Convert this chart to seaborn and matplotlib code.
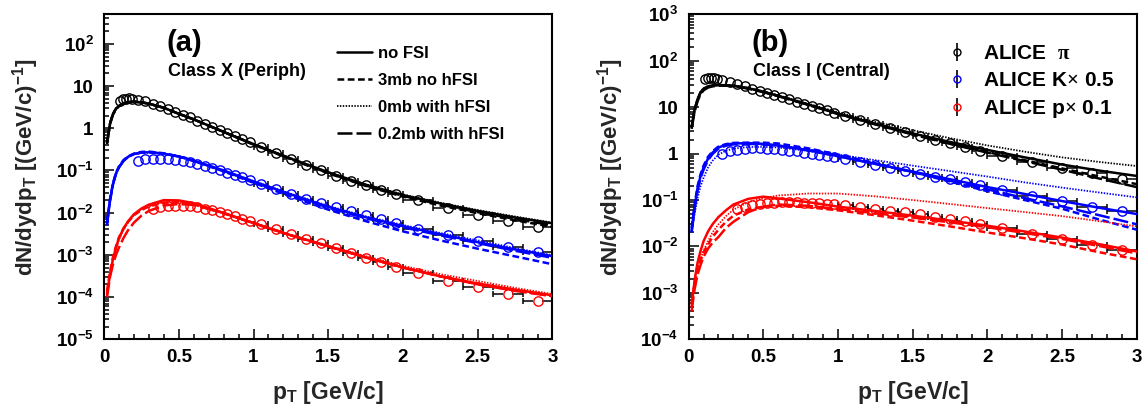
import numpy as np
import pandas as pd
import matplotlib
matplotlib.use("Agg")
import matplotlib.pyplot as plt
from matplotlib.lines import Line2D
from matplotlib.container import ErrorbarContainer
from matplotlib.legend_handler import HandlerErrorbar
from matplotlib.ticker import LogLocator, MultipleLocator, FuncFormatter, NullFormatter
import seaborn as sns

# ---------------- measured spectra (bin edges in GeV/c) ----------------
pi_edges = [0.10, 0.12, 0.14, 0.16, 0.18, 0.20, 0.25, 0.30, 0.35, 0.40, 0.45, 0.50,
            0.55, 0.60, 0.65, 0.70, 0.75, 0.80, 0.85, 0.90, 0.95, 1.00, 1.10, 1.20,
            1.30, 1.40, 1.50, 1.60, 1.70, 1.80, 1.90, 2.00, 2.20, 2.40, 2.60, 2.80, 3.00]
k_edges = pi_edges[5:]
p_edges = pi_edges[7:]

periph_pi_data = [4.3, 4.8, 5.0, 5.1, 5.0,
                  4.7, 4.3, 3.8, 3.3, 2.85, 2.45, 2.1, 1.8, 1.52, 1.28, 1.08, 0.91, 0.77, 0.65, 0.55, 0.47,
                  0.36, 0.26, 0.185, 0.135, 0.10, 0.075, 0.057, 0.044, 0.034, 0.027,
                  0.0195, 0.0131, 0.0089, 0.0062, 0.0046]
periph_k_data = [0.17, 0.185, 0.19, 0.19, 0.185, 0.178, 0.168, 0.155, 0.14, 0.126, 0.113, 0.1, 0.089, 0.079, 0.069, 0.061,
                 0.047, 0.036, 0.028, 0.0215, 0.017, 0.0133, 0.0108, 0.0086, 0.0069, 0.0057,
                 0.0042, 0.0029, 0.0021, 0.0015, 0.00114]
periph_p_data = [0.0123, 0.0135, 0.014, 0.0142, 0.0142, 0.014, 0.0133, 0.0124, 0.0114, 0.0103, 0.0093, 0.0082, 0.0072, 0.0063,
                 0.0053, 0.0041, 0.0031, 0.0024, 0.00186, 0.00142, 0.00108, 0.00083, 0.00066, 0.00052,
                 0.00038, 0.000245, 0.00017, 0.000118, 0.000082]

central_pi_data = [40, 42, 42, 42, 41,
                   38, 34, 31, 28, 25, 22.5, 20.5, 18.5, 16.5, 14.8, 13.2, 11.8, 10.6, 9.5, 8.5, 7.6,
                   6.4, 5.2, 4.3, 3.55, 2.9, 2.4, 1.98, 1.65, 1.38, 1.15,
                   0.90, 0.66, 0.50, 0.38, 0.28]
central_k_data = [0.98, 1.12, 1.22, 1.27, 1.29, 1.29, 1.28, 1.25, 1.21, 1.16, 1.11, 1.05, 0.99, 0.94, 0.88, 0.83,
                  0.75, 0.65, 0.56, 0.49, 0.43, 0.37, 0.32, 0.28, 0.24, 0.21,
                  0.166, 0.125, 0.094, 0.071, 0.057]
central_p_data = [0.063, 0.071, 0.078, 0.083, 0.086, 0.088, 0.089, 0.089, 0.089, 0.088, 0.087, 0.085, 0.083, 0.081,
                  0.077, 0.071, 0.065, 0.059, 0.054, 0.049, 0.044, 0.039, 0.035, 0.031,
                  0.025, 0.0185, 0.0145, 0.0108, 0.0084]

# ---------------- model curves ----------------
pt_model = [0.02, 0.04, 0.06, 0.08, 0.10, 0.13, 0.16, 0.20, 0.25, 0.30, 0.40, 0.50,
            0.60, 0.80, 1.00, 1.25, 1.50, 1.75, 2.00, 2.25, 2.50, 2.75, 3.00]

periph_pi_nofsi = [0.45, 1.3, 2.2, 2.9, 3.4, 3.9, 4.15, 4.25, 4.1, 3.8, 3.05, 2.2, 1.62, 0.82, 0.42, 0.19, 0.09, 0.046, 0.026, 0.0165, 0.011, 0.0077, 0.0056]
periph_pi_3mb = [0.45, 1.3, 2.2, 2.9, 3.4, 3.9, 4.15, 4.3, 4.15, 3.85, 3.05, 2.2, 1.62, 0.82, 0.41, 0.185, 0.086, 0.043, 0.024, 0.0148, 0.0097, 0.0066, 0.0046]
periph_pi_0mb = [0.47, 1.35, 2.25, 2.95, 3.45, 3.95, 4.2, 4.3, 4.1, 3.8, 3.05, 2.2, 1.62, 0.83, 0.43, 0.195, 0.092, 0.047, 0.027, 0.0172, 0.0115, 0.0081, 0.0058]
periph_pi_02mb = [0.42, 1.25, 2.1, 2.8, 3.3, 3.8, 4.1, 4.2, 4.1, 3.8, 3.05, 2.2, 1.62, 0.82, 0.41, 0.187, 0.087, 0.044, 0.025, 0.0155, 0.0103, 0.0071, 0.0050]

periph_k_nofsi = [0.0055, 0.02, 0.048, 0.085, 0.12, 0.17, 0.21, 0.245, 0.265, 0.27, 0.25, 0.215, 0.17, 0.10, 0.055, 0.027, 0.0138, 0.0078, 0.0048, 0.0031, 0.002, 0.00135, 0.00093]
periph_k_3mb = [0.006, 0.021, 0.05, 0.088, 0.125, 0.175, 0.215, 0.25, 0.275, 0.28, 0.255, 0.215, 0.168, 0.095, 0.051, 0.024, 0.0118, 0.0063, 0.0036, 0.0022, 0.0014, 0.00092, 0.0006]
periph_k_0mb = [0.005, 0.019, 0.046, 0.082, 0.117, 0.165, 0.205, 0.24, 0.26, 0.265, 0.25, 0.215, 0.17, 0.10, 0.056, 0.028, 0.0145, 0.0082, 0.0051, 0.0033, 0.0022, 0.00145, 0.00098]
periph_k_02mb = [0.0052, 0.019, 0.047, 0.083, 0.118, 0.168, 0.208, 0.245, 0.265, 0.27, 0.25, 0.213, 0.168, 0.098, 0.053, 0.026, 0.0132, 0.0074, 0.0045, 0.0029, 0.0019, 0.00125, 0.00085]

periph_p_nofsi = [0.00012, 0.00035, 0.0008, 0.0015, 0.0025, 0.0042, 0.0062, 0.0092, 0.0125, 0.0155, 0.0198, 0.0195, 0.0168, 0.0098, 0.0057, 0.0029, 0.0016, 0.00088, 0.0005, 0.00031, 0.00021, 0.00015, 0.00011]
periph_p_3mb = [0.00014, 0.0004, 0.0009, 0.0016, 0.0026, 0.0042, 0.006, 0.0087, 0.0115, 0.014, 0.0172, 0.0175, 0.0157, 0.0097, 0.0056, 0.0029, 0.00158, 0.00087, 0.0005, 0.00031, 0.0002, 0.000145, 0.000105]
periph_p_0mb = [0.00011, 0.00033, 0.00075, 0.0014, 0.0023, 0.0039, 0.0058, 0.0088, 0.012, 0.015, 0.0185, 0.0188, 0.0165, 0.0099, 0.0058, 0.003, 0.00165, 0.00093, 0.00055, 0.00035, 0.00024, 0.000165, 0.000118]
periph_p_02mb = [0.0001, 0.0003, 0.0006, 0.001, 0.0015, 0.0025, 0.0038, 0.0058, 0.0085, 0.011, 0.0148, 0.016, 0.0152, 0.0098, 0.0056, 0.0029, 0.0016, 0.00087, 0.0005, 0.00031, 0.0002, 0.00014, 0.000105]

central_pi_nofsi = [3.8, 9.0, 15, 21, 25, 28, 29.5, 30, 29.5, 29, 25.5, 21.5, 17.5, 11.4, 7.3, 4.4, 2.72, 1.78, 1.2, 0.83, 0.58, 0.43, 0.33]
central_pi_3mb = [3.6, 8.6, 14.5, 20.5, 24.5, 27.5, 29, 30, 29.5, 29, 25.5, 21.5, 17.5, 11.4, 7.2, 4.3, 2.6, 1.65, 1.08, 0.72, 0.48, 0.32, 0.22]
central_pi_0mb = [3.9, 9.2, 15.5, 21.5, 25.5, 28.5, 30, 30.5, 30, 29.5, 26, 22, 18, 11.9, 7.8, 4.8, 3.2, 2.15, 1.5, 1.1, 0.83, 0.66, 0.54]
central_pi_02mb = [3.4, 8.0, 13.5, 19, 23, 26.5, 28, 29, 29, 28.5, 25, 21, 17.2, 11.2, 7.1, 4.25, 2.58, 1.62, 1.05, 0.69, 0.45, 0.29, 0.19]

central_k_nofsi = [0.022, 0.07, 0.18, 0.33, 0.5, 0.78, 1.05, 1.35, 1.55, 1.65, 1.68, 1.62, 1.5, 1.18, 0.88, 0.6, 0.41, 0.28, 0.19, 0.135, 0.095, 0.068, 0.05]
central_k_3mb = [0.025, 0.08, 0.2, 0.36, 0.55, 0.85, 1.12, 1.42, 1.6, 1.7, 1.72, 1.72, 1.65, 1.3, 0.95, 0.62, 0.40, 0.25, 0.155, 0.1, 0.065, 0.038, 0.023]
central_k_0mb = [0.02, 0.05, 0.11, 0.2, 0.3, 0.5, 0.7, 0.95, 1.15, 1.28, 1.38, 1.4, 1.35, 1.15, 0.95, 0.72, 0.55, 0.42, 0.32, 0.24, 0.185, 0.145, 0.114]
central_k_02mb = [0.02, 0.065, 0.16, 0.3, 0.45, 0.72, 0.98, 1.28, 1.48, 1.58, 1.62, 1.58, 1.48, 1.17, 0.88, 0.6, 0.40, 0.26, 0.17, 0.11, 0.073, 0.047, 0.03]

central_p_nofsi = [0.0005, 0.0019, 0.0045, 0.008, 0.013, 0.021, 0.03, 0.043, 0.06, 0.08, 0.106, 0.118, 0.108, 0.09, 0.072, 0.058, 0.046, 0.036, 0.028, 0.021, 0.0155, 0.0112, 0.0078]
central_p_3mb = [0.0006, 0.0015, 0.003, 0.005, 0.0075, 0.011, 0.016, 0.023, 0.034, 0.046, 0.063, 0.072, 0.075, 0.07, 0.06, 0.047, 0.036, 0.027, 0.02, 0.015, 0.011, 0.0075, 0.0053]
central_p_0mb = [0.0006, 0.0018, 0.0035, 0.0055, 0.008, 0.013, 0.02, 0.03, 0.045, 0.062, 0.09, 0.11, 0.125, 0.138, 0.138, 0.12, 0.1, 0.082, 0.067, 0.055, 0.045, 0.035, 0.027]
central_p_02mb = [0.0004, 0.0012, 0.0025, 0.004, 0.006, 0.009, 0.012, 0.016, 0.025, 0.034, 0.055, 0.072, 0.08, 0.075, 0.064, 0.052, 0.042, 0.033, 0.026, 0.0195, 0.0145, 0.0102, 0.0071]

species = ["pi", "K", "p"]
species_colors = {"pi": "#000000", "K": "#0000ff", "p": "#ff0000"}
model_names = ["no FSI", "3mb no hFSI", "0mb with hFSI", "0.2mb with hFSI"]
model_styles = {
    "no FSI": dict(linestyle="-", linewidth=1.8),
    "3mb no hFSI": dict(linestyle=(0, (2.7, 1.4)), linewidth=1.8),
    "0mb with hFSI": dict(linestyle=(0, (0.8, 0.8)), linewidth=1.3),
    "0.2mb with hFSI": dict(linestyle=(0, (6.0, 1.6)), linewidth=1.8),
}
alice_labels = [r"ALICE  $\mathsf{\pi}$", r"ALICE K$\mathsf{\times}$ 0.5", r"ALICE p$\mathsf{\times}$ 0.1"]

panels = {
    "periph": dict(
        data={"pi": periph_pi_data, "K": periph_k_data, "p": periph_p_data},
        model={"pi": [periph_pi_nofsi, periph_pi_3mb, periph_pi_0mb, periph_pi_02mb],
               "K": [periph_k_nofsi, periph_k_3mb, periph_k_0mb, periph_k_02mb],
               "p": [periph_p_nofsi, periph_p_3mb, periph_p_0mb, periph_p_02mb]},
        ylim=(1e-5, 500), tag="(a)", cls="Class X (Periph)"),
    "central": dict(
        data={"pi": central_pi_data, "K": central_k_data, "p": central_p_data},
        model={"pi": [central_pi_nofsi, central_pi_3mb, central_pi_0mb, central_pi_02mb],
               "K": [central_k_nofsi, central_k_3mb, central_k_0mb, central_k_02mb],
               "p": [central_p_nofsi, central_p_3mb, central_p_0mb, central_p_02mb]},
        ylim=(1e-4, 1e3), tag="(b)", cls="Class I (Central)"),
}
edges_of = {"pi": pi_edges, "K": k_edges, "p": p_edges}

# ---------------- style ----------------
sns.set_theme(style="ticks")
plt.rcParams.update({
    "font.family": ["Liberation Sans", "DejaVu Sans"],
    "font.weight": "bold",
    "axes.labelweight": "bold",
    "mathtext.fontset": "custom",
    "mathtext.rm": "Liberation Sans:bold",
    "mathtext.bf": "Liberation Sans:bold",
    "mathtext.it": "Liberation Sans:bold:italic",
    "mathtext.sf": "Liberation Serif",
    "axes.linewidth": 1.5,
    "axes.edgecolor": "black",
    "axes.facecolor": "white",
    "figure.facecolor": "white",
    "xtick.color": "black",
    "ytick.color": "black",
    "text.color": "black",
})

marker_gap = 0.031  # half marker width in GeV/c: error bars stop at the circle


def log_label(v, pos):
    e = int(round(np.log10(v)))
    if e == 0:
        return "1"
    if e == 1:
        return "10"
    return r"$10^{%d}$" % e


def draw_points(ax, edges, values, color):
    e = np.asarray(edges, dtype=float)
    y = np.asarray(values, dtype=float)
    lo, hi = e[:-1], e[1:]
    x = 0.5 * (lo + hi)
    wide = 0.5 * (hi - lo) > marker_gap
    ax.hlines(y[wide], lo[wide], x[wide] - marker_gap, color="black", lw=1.1, zorder=2)
    ax.hlines(y[wide], x[wide] + marker_gap, hi[wide], color="black", lw=1.1, zorder=2)
    for xe in (lo[wide], hi[wide]):
        ax.plot(xe, y[wide], ls="none", marker="|", ms=4.5, mew=1.1, color="black", zorder=2)
    ax.plot(x, y, ls="none", marker="o", ms=6.7, mfc="none", mec=color, mew=1.0, zorder=3)


fig = plt.figure(figsize=(11.42, 4.16), dpi=100)
ax_a = fig.add_axes([0.0911, 0.1844, 0.3927, 0.7812])
ax_b = fig.add_axes([0.6030, 0.1844, 0.3923, 0.7812])

for ax, key in ((ax_a, "periph"), (ax_b, "central")):
    cfg = panels[key]
    for sp in species:
        draw_points(ax, edges_of[sp], cfg["data"][sp], species_colors[sp])

    rows = []
    for sp in species:
        for mname, vals in zip(model_names, cfg["model"][sp]):
            for pt, v in zip(pt_model, vals):
                rows.append((pt, v, sp, mname))
    df = pd.DataFrame(rows, columns=["pt", "val", "species", "model"])
    for mname in model_names:
        sns.lineplot(data=df[df["model"] == mname], x="pt", y="val", hue="species",
                     hue_order=species, palette=species_colors, estimator=None,
                     legend=False, ax=ax, zorder=4, **model_styles[mname])

    ax.set_yscale("log")
    ax.set_xlim(0, 3)
    ax.set_ylim(*cfg["ylim"])
    ax.xaxis.set_major_locator(MultipleLocator(0.5))
    ax.xaxis.set_minor_locator(MultipleLocator(0.1))
    ax.xaxis.set_major_formatter(FuncFormatter(lambda v, p: "%g" % v))
    ax.yaxis.set_major_locator(LogLocator(base=10, numticks=20))
    ax.yaxis.set_minor_locator(LogLocator(base=10, subs=np.arange(2, 10), numticks=200))
    ax.yaxis.set_major_formatter(FuncFormatter(log_label))
    ax.yaxis.set_minor_formatter(NullFormatter())
    ax.tick_params(which="both", direction="in", top=False, right=False, width=1.1, labelsize=13.5)
    ax.tick_params(which="major", length=7)
    ax.tick_params(which="minor", length=3.8)
    ax.tick_params(axis="x", pad=7)
    ax.tick_params(axis="y", pad=7.5)
    for s in ax.spines.values():
        s.set_visible(True)
        s.set_linewidth(1.5)
        s.set_color("black")

    ax.set_xlabel(r"p$_{\mathrm{T}}$ [GeV/c]", fontsize=16.5, fontweight="bold", va="center")
    ax.xaxis.set_label_coords(0.5, -0.165)
    ax.set_ylabel(r"dN/dydp$_{\mathrm{T}}$ [(GeV/c)$^{\mathrm{-1}}$]", fontsize=16,
                  fontweight="bold", va="center")
    ax.yaxis.set_label_coords(-0.175, 0.53)

    ax.text(0.14, 0.911, cfg["tag"], transform=ax.transAxes, fontsize=21,
            fontweight="bold", va="center", ha="left")
    ax.text(0.143, 0.823, cfg["cls"], transform=ax.transAxes, fontsize=13,
            fontweight="bold", va="center", ha="left")

# model legend (panel a)
model_handles = [Line2D([], [], color="black", **model_styles[m]) for m in model_names]
ax_a.legend(model_handles, model_names, loc="upper left", bbox_to_anchor=(0.519, 0.9034),
            frameon=False, fontsize=12, handlelength=2.1, handletextpad=0.38,
            labelspacing=0.72, borderpad=0, borderaxespad=0)

# data legend (panel b)
data_handles = [ax_b.errorbar([], [], yerr=[], fmt="o", ms=5, mfc="none",
                              mec=species_colors[sp], mew=1.0, ecolor="black",
                              elinewidth=1.2, capsize=4.5, capthick=1.2)
                for sp in species]
ax_b.legend(data_handles, alice_labels, loc="upper left", bbox_to_anchor=(0.575, 0.9085),
            frameon=False, fontsize=15, handlelength=1.0, handletextpad=0.78,
            labelspacing=0.39, borderpad=0, borderaxespad=0, numpoints=1,
            handler_map={ErrorbarContainer: HandlerErrorbar(yerr_size=0.43)})

fig.savefig("out.png", dpi=100)
